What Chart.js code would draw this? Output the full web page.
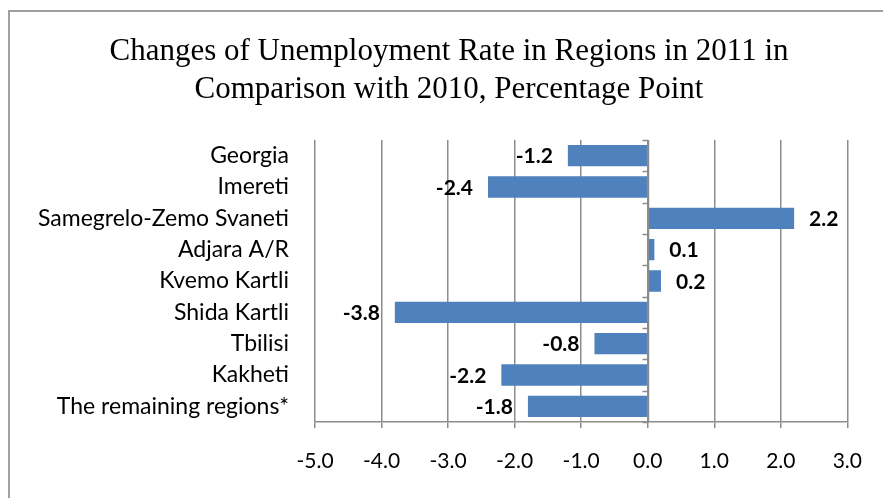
<!DOCTYPE html>
<html>
<head>
<meta charset="utf-8">
<title>Changes of Unemployment Rate in Regions</title>
<script src="https://cdn.jsdelivr.net/npm/chart.js@4/dist/chart.umd.min.js"></script>
<style>
  body { margin: 0; background: #fff; }
  #wrap { position: relative; width: 883px; height: 498px; }
</style>
</head>
<body>
<div id="wrap"><canvas id="myChart" width="883" height="498"></canvas></div>
<script>
// data
const regions = [
    'Georgia',
    'Imereti',
    'Samegrelo-Zemo Svaneti',
    'Adjara A/R',
    'Kvemo Kartli',
    'Shida Kartli',
    'Tbilisi',
    'Kakheti',
    'The remaining regions*'
];
const changes = [-1.2, -2.4, 2.2, 0.1, 0.2, -3.8, -0.8, -2.2, -1.8];
const tickValues = [-5, -4, -3, -2, -1, 0, 1, 2, 3];

const titleLines = [
    'Changes of Unemployment Rate in Regions in 2011 in',
    'Comparison with 2010, Percentage Point'
];

const gridGray = '#8c8c8c';

// outer frame of the chart object (runs off the right/bottom) + title
const framePlugin = {
    id: 'frame',
    beforeDraw(chart) {
        const c = chart.ctx;
        c.save();
        c.fillStyle = '#fff';
        c.fillRect(0, 0, chart.width, chart.height);
        c.strokeStyle = '#a0a0a0';
        c.lineWidth = 2;
        c.strokeRect(9, 11, 1000, 1000);

        // title is centred over the frame, not the canvas
        c.fillStyle = '#000';
        c.font = '31px "Liberation Serif"';
        c.textAlign = 'center';
        c.textBaseline = 'middle';
        titleLines.forEach((line, i) => {
            c.fillText(line, 449, 52 + i * 38);
        });
        c.restore();
    }
};

// zero line with small category ticks, plus the value labels
const zeroAndLabels = {
    id: 'zeroAndLabels',
    afterDatasetsDraw(chart) {
        const c = chart.ctx;
        const x0 = Math.round(chart.scales.x.getPixelForValue(0)) + 0.5;
        const area = chart.chartArea;
        c.save();
        c.strokeStyle = gridGray;
        c.lineWidth = 1.5;
        c.beginPath();
        c.moveTo(x0, area.top);
        c.lineTo(x0, area.bottom);
        const step = (area.bottom - area.top) / regions.length;
        for (let i = 0; i <= regions.length; i++) {
            const y = Math.round(area.top + i * step) + 0.5;
            c.moveTo(x0 - 6, y);
            c.lineTo(x0, y);
        }
        c.stroke();

        c.fillStyle = '#000';
        c.font = 'bold 21px Lato';
        c.textBaseline = 'middle';
        const meta = chart.getDatasetMeta(0);
        meta.data.forEach((bar, i) => {
            const v = changes[i];
            if (v < 0) {
                c.textAlign = 'right';
                c.fillText(v.toFixed(1), bar.x - 15, bar.y + 1);
            } else {
                c.textAlign = 'left';
                c.fillText(v.toFixed(1), bar.x + 15, bar.y + 1);
            }
        });
        c.restore();
    }
};

const ctx = document.getElementById('myChart');

new Chart(ctx, {
    type: 'bar',
    data: {
        labels: regions,
        datasets: [{
            data: changes,
            backgroundColor: '#4f81bd',
            borderWidth: 0,
            categoryPercentage: 1,
            barPercentage: 0.68
        }]
    },
    options: {
        indexAxis: 'y',
        responsive: false,
        animation: false,
        layout: { padding: { left: 0, right: 32, top: 140, bottom: 0 } },
        plugins: {
            legend: { display: false },
            tooltip: { enabled: false },
            title: { display: false }
        },
        scales: {
            x: {
                min: tickValues[0],
                max: tickValues[tickValues.length - 1],
                afterBuildTicks(scale) {
                    scale.ticks = tickValues.map(v => ({ value: v }));
                },
                afterFit(scale) {
                    scale.height = 76;
                },
                grid: {
                    color: gridGray,
                    lineWidth: 1.5,
                    drawTicks: true,
                    tickLength: 6
                },
                border: { display: true, color: gridGray, width: 1.5 },
                ticks: {
                    color: '#000',
                    font: { family: 'Lato', size: 21 },
                    padding: 21,
                    maxRotation: 0,
                    callback: (v) => Number(v).toFixed(1)
                }
            },
            y: {
                afterFit(scale) {
                    scale.width = 315;
                },
                grid: { display: false, drawTicks: false },
                border: { display: false },
                ticks: {
                    color: '#000',
                    font: { family: 'Lato', size: 23 },
                    padding: 26,
                    autoSkip: false
                }
            }
        }
    },
    plugins: [framePlugin, zeroAndLabels]
});
</script>
</body>
</html>
